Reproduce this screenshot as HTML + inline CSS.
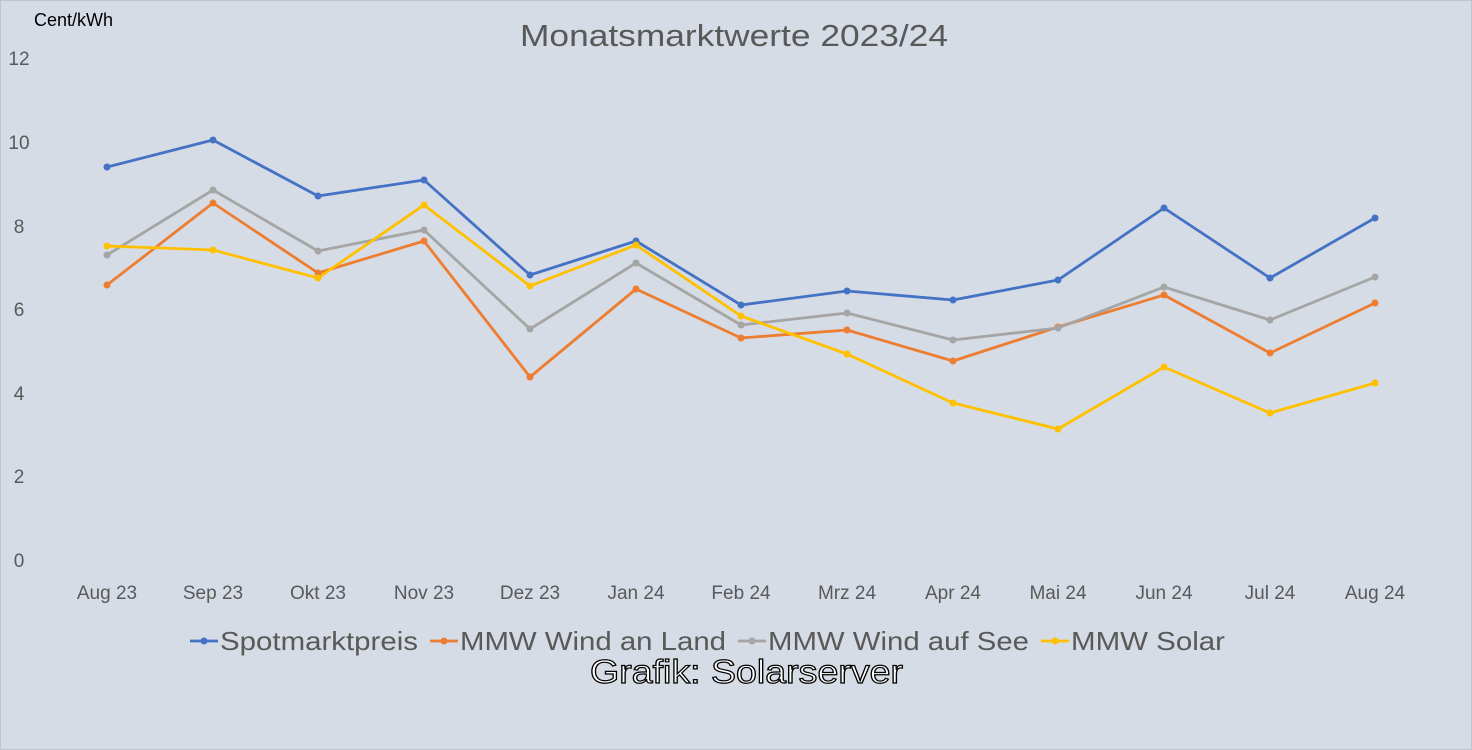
<!DOCTYPE html>
<html><head><meta charset="utf-8"><style>
body{margin:0;background:#fff}
svg{display:block;font-family:"Liberation Sans",sans-serif}
</style></head><body>
<svg width="1472" height="750" viewBox="0 0 1472 750" xmlns="http://www.w3.org/2000/svg">
<rect x="0" y="0" width="1472" height="750" fill="#d6dce5"/>
<rect x="0.5" y="0.5" width="1471" height="749" fill="none" stroke="#bfc5ce"/>
<text x="520" y="46" font-size="31" fill="#595959" textLength="428" lengthAdjust="spacingAndGlyphs">Monatsmarktwerte 2023/24</text>
<text x="34" y="26" font-size="18" fill="#000">Cent/kWh</text>
<g font-size="19" fill="#595959" text-anchor="middle">
<text x="19" y="567">0</text><text x="19" y="483">2</text><text x="19" y="400">4</text>
<text x="19" y="316">6</text><text x="19" y="233">8</text><text x="19" y="149">10</text><text x="19" y="65">12</text>
<text x="107" y="599">Aug 23</text><text x="213" y="599">Sep 23</text><text x="318" y="599">Okt 23</text>
<text x="424" y="599">Nov 23</text><text x="530" y="599">Dez 23</text><text x="636" y="599">Jan 24</text>
<text x="741" y="599">Feb 24</text><text x="847" y="599">Mrz 24</text><text x="953" y="599">Apr 24</text>
<text x="1058" y="599">Mai 24</text><text x="1164" y="599">Jun 24</text><text x="1270" y="599">Jul 24</text>
<text x="1375" y="599">Aug 24</text>
</g>
<g fill="none" stroke-width="2.8" stroke-linejoin="round">
<polyline stroke="#4472c4" points="107,167 213,140 318,196 424,180 530,275 636,241 741,305 847,291 953,300 1058,280 1164,208 1270,278 1375,218"/>
<polyline stroke="#ed7d31" points="107,285 213,203 318,273 424,241 530,377 636,289 741,338 847,330 953,361 1058,327 1164,295 1270,353 1375,303"/>
<polyline stroke="#a5a5a5" points="107,255 213,190 318,251 424,230 530,329 636,263 741,325 847,313 953,340 1058,328 1164,287 1270,320 1375,277"/>
<polyline stroke="#ffc000" points="107,246 213,250 318,278 424,205 530,286 636,245 741,316 847,354 953,403 1058,429 1164,367 1270,413 1375,383"/>
</g>
<g fill="#4472c4"><circle cx="107" cy="167" r="3.5"/><circle cx="213" cy="140" r="3.5"/><circle cx="318" cy="196" r="3.5"/><circle cx="424" cy="180" r="3.5"/><circle cx="530" cy="275" r="3.5"/><circle cx="636" cy="241" r="3.5"/><circle cx="741" cy="305" r="3.5"/><circle cx="847" cy="291" r="3.5"/><circle cx="953" cy="300" r="3.5"/><circle cx="1058" cy="280" r="3.5"/><circle cx="1164" cy="208" r="3.5"/><circle cx="1270" cy="278" r="3.5"/><circle cx="1375" cy="218" r="3.5"/></g>
<g fill="#ed7d31"><circle cx="107" cy="285" r="3.5"/><circle cx="213" cy="203" r="3.5"/><circle cx="318" cy="273" r="3.5"/><circle cx="424" cy="241" r="3.5"/><circle cx="530" cy="377" r="3.5"/><circle cx="636" cy="289" r="3.5"/><circle cx="741" cy="338" r="3.5"/><circle cx="847" cy="330" r="3.5"/><circle cx="953" cy="361" r="3.5"/><circle cx="1058" cy="327" r="3.5"/><circle cx="1164" cy="295" r="3.5"/><circle cx="1270" cy="353" r="3.5"/><circle cx="1375" cy="303" r="3.5"/></g>
<g fill="#a5a5a5"><circle cx="107" cy="255" r="3.5"/><circle cx="213" cy="190" r="3.5"/><circle cx="318" cy="251" r="3.5"/><circle cx="424" cy="230" r="3.5"/><circle cx="530" cy="329" r="3.5"/><circle cx="636" cy="263" r="3.5"/><circle cx="741" cy="325" r="3.5"/><circle cx="847" cy="313" r="3.5"/><circle cx="953" cy="340" r="3.5"/><circle cx="1058" cy="328" r="3.5"/><circle cx="1164" cy="287" r="3.5"/><circle cx="1270" cy="320" r="3.5"/><circle cx="1375" cy="277" r="3.5"/></g>
<g fill="#ffc000"><circle cx="107" cy="246" r="3.5"/><circle cx="213" cy="250" r="3.5"/><circle cx="318" cy="278" r="3.5"/><circle cx="424" cy="205" r="3.5"/><circle cx="530" cy="286" r="3.5"/><circle cx="636" cy="245" r="3.5"/><circle cx="741" cy="316" r="3.5"/><circle cx="847" cy="354" r="3.5"/><circle cx="953" cy="403" r="3.5"/><circle cx="1058" cy="429" r="3.5"/><circle cx="1164" cy="367" r="3.5"/><circle cx="1270" cy="413" r="3.5"/><circle cx="1375" cy="383" r="3.5"/></g>
<g font-size="26" fill="#595959">
<line x1="190" y1="641" x2="218" y2="641" stroke="#4472c4" stroke-width="2.8"/><circle cx="204" cy="641" r="3.5" fill="#4472c4"/>
<text x="220" y="650" textLength="198" lengthAdjust="spacingAndGlyphs">Spotmarktpreis</text>
<line x1="430" y1="641" x2="458" y2="641" stroke="#ed7d31" stroke-width="2.8"/><circle cx="444" cy="641" r="3.5" fill="#ed7d31"/>
<text x="460" y="650" textLength="266" lengthAdjust="spacingAndGlyphs">MMW Wind an Land</text>
<line x1="738" y1="641" x2="766" y2="641" stroke="#a5a5a5" stroke-width="2.8"/><circle cx="752" cy="641" r="3.5" fill="#a5a5a5"/>
<text x="768" y="650" textLength="261" lengthAdjust="spacingAndGlyphs">MMW Wind auf See</text>
<line x1="1041" y1="641" x2="1069" y2="641" stroke="#ffc000" stroke-width="2.8"/><circle cx="1055" cy="641" r="3.5" fill="#ffc000"/>
<text x="1071" y="650" textLength="154" lengthAdjust="spacingAndGlyphs">MMW Solar</text>
</g>
<text x="590" y="683" font-size="33" fill="#fff" stroke="#000" stroke-width="1.2" textLength="313" lengthAdjust="spacingAndGlyphs">Grafik: Solarserver</text>
</svg>
</body></html>
